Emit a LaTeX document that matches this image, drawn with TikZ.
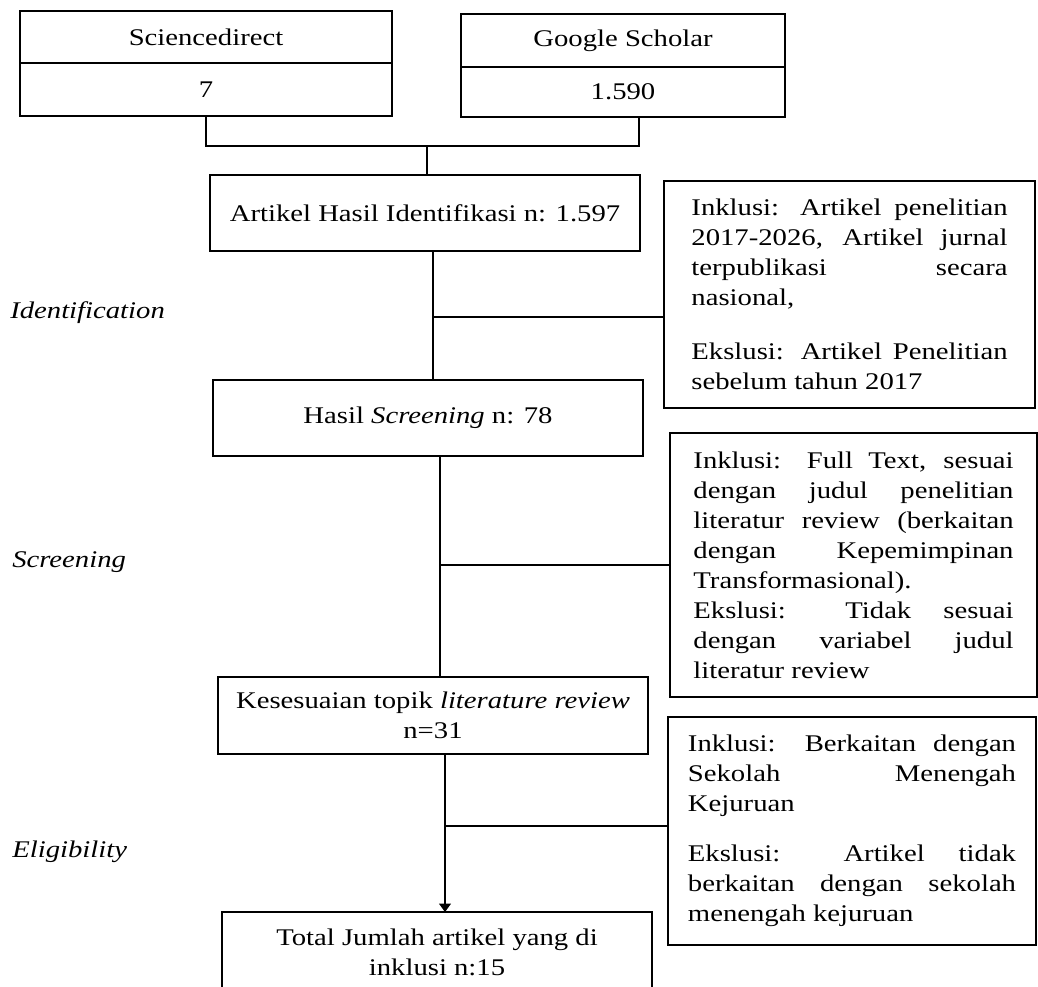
\documentclass[tikz,border=0pt]{standalone}
\usepackage{fontspec}
\setmainfont[FakeStretch=1.2]{Liberation Serif}
\usetikzlibrary{positioning,calc,arrows.meta}
\setlength{\parindent}{0pt}
\tolerance=10000

\begin{document}
\begin{tikzpicture}[x=0.025cm, y=-0.025cm,
        box/.style={draw, line width=1.8pt, outer sep=0pt, font=\fontsize{17}{21.3}\selectfont},
        note/.style={box, align=justify, inner ysep=0pt},
        link/.style={line width=0.85pt},
        flow/.style={link, -{Triangle[length=6pt,width=8.5pt]}},
        stage/.style={anchor=west, inner sep=0pt, font=\fontsize{17}{21.3}\selectfont\itshape}]
        \useasboundingbox (0,0) rectangle (1038,986);

        \node[box, minimum width=9.3cm, minimum height=1.3cm] (sdname) at (206,37) {Sciencedirect};
        \node[box, minimum width=9.3cm, minimum height=1.325cm, below=0pt of sdname] (sdcount) {7};
        \node[box, minimum width=8.1cm, minimum height=1.325cm] (gsname) at (623,40.5) {Google Scholar};
        \node[box, minimum width=8.1cm, minimum height=1.25cm, below=0pt of gsname] (gscount) {1.590};

        \node[box, minimum width=10.75cm, minimum height=1.9cm] (ident) at (425,213) {Artikel Hasil Identifikasi n: 1.597};
        \node[box, minimum width=10.75cm, minimum height=1.9cm] (screen) at (428,418) {Hasil \textit{Screening} n: 78};
        \node[box, minimum width=10.75cm, minimum height=1.925cm, align=center] (kes) at (433,715.5) {Kesesuaian topik \textit{literature review}\\ n=31};
        \node[box, minimum width=10.75cm, minimum height=2cm, align=center] (total) at (437,952) {Total Jumlah artikel yang di\\ inklusi n:15};

        \node[note, text width=7.9cm, inner xsep=0.6875cm, minimum height=5.675cm] (incl1) at (849.5,294.5) {Inklusi: Artikel penelitian\linebreak 2017-2026, Artikel jurnal\linebreak terpublikasi secara\linebreak nasional,\par\vspace{0.6cm}Ekslusi: Artikel Penelitian\linebreak sebelum tahun 2017};
        \node[note, text width=8cm, inner xsep=0.5875cm, minimum height=6.6cm] (incl2) at (853.5,565) {Inklusi: Full Text, sesuai\linebreak dengan judul penelitian\linebreak literatur review (berkaitan\linebreak dengan Kepemimpinan\linebreak Transformasional).\par Ekslusi: Tidak sesuai\linebreak dengan variabel judul\linebreak literatur review};
        \node[note, text width=8.2cm, inner xsep=0.5cm, minimum height=5.7cm] (incl3) at (852,831) {Inklusi: Berkaitan dengan\linebreak Sekolah Menengah\linebreak Kejuruan\par\vspace{0.5cm}Ekslusi: Artikel tidak\linebreak berkaitan dengan sekolah\linebreak menengah kejuruan};

        \node[stage] (idlabel) at (10,313) {Identification};
        \node[stage] (sclabel) at (12,562) {Screening};
        \node[stage] (ellabel) at (12,852) {Eligibility};

        \coordinate (merge) at (427,146);
        \coordinate (gsfoot) at (639,117);
        \draw[link] (sdcount.south) |- (merge) -| (gsfoot);
        \draw[link] (merge) -- (merge |- ident.north);

        \coordinate (s1) at ($(ident.south)+(8,0)$);
        \coordinate (b1) at ($(s1)+(0,66)$);
        \draw[link] (s1) -- (s1 |- screen.north);
        \draw[link] (b1) -- (b1 -| incl1.west);

        \coordinate (s2) at ($(screen.south)+(12,0)$);
        \draw[link] (s2) -- (s2 |- kes.north);
        \draw[link] (s2 |- incl2.west) -- (incl2.west);

        \coordinate (s3) at ($(kes.south)+(12,0)$);
        \coordinate (b3) at ($(s3)+(0,72)$);
        \draw[flow] (s3) -- (s3 |- total.north);
        \draw[link] (b3) -- (b3 -| incl3.west);
\end{tikzpicture}
\end{document}
